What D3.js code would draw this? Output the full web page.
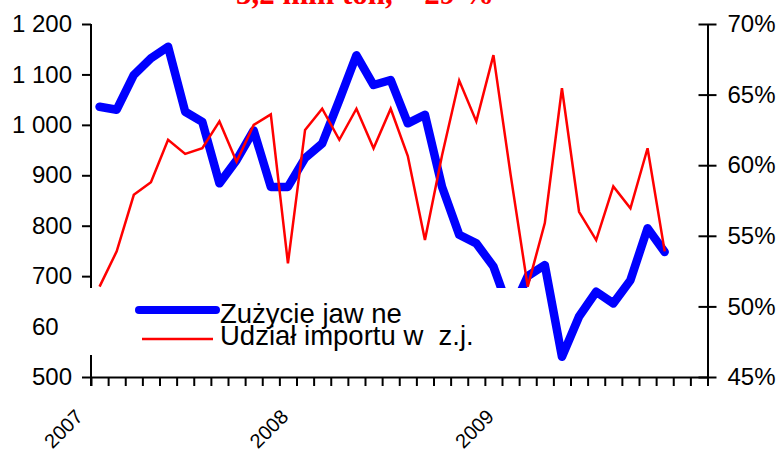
<!DOCTYPE html>
<html><head><meta charset="utf-8">
<script src="https://cdn.jsdelivr.net/npm/d3@7"></script>
<style>html,body{margin:0;padding:0;background:#fff;}svg{display:block;}</style>
</head><body>
<svg id="c" width="778" height="454"></svg>
<script>
// ---- data ----
const months = d3.range(36).map(i => new Date(2007 + Math.floor(i / 12), i % 12, 1));
const yearLabels = ["2007", "2008", "2009"];
const consumption = [1036, 1030, 1099, 1132, 1155, 1026, 1006, 884, 930, 989, 877, 877,
  934, 963, 1049, 1138, 1079, 1089, 1003, 1020, 877, 782, 765, 719,
  625, 700, 722, 540, 620, 669, 646, 692, 795, 748];
const importShare = [51.4, 53.9, 57.9, 58.8, 61.8, 60.8, 61.2, 63.1, 60.25, 62.85, 63.6, 53.05,
  62.5, 64.0, 61.8, 64.0, 61.2, 64.0, 60.65, 54.7, 60.7, 66.0, 63.1, 67.8,
  59.35, 51.4, 55.9, 65.45, 56.7, 54.7, 58.5, 56.95, 61.2, 53.9];
const leftTicks = [500, 600, 700, 800, 900, 1000, 1100, 1200];
const rightTicks = [45, 50, 55, 60, 65, 70];
const seriesNames = ["Zużycie jaw ne", "Udział importu w  z.j."];
const titleText = "3,2 mln ton, ~ 29 %";

// ---- layout ----
const svg = d3.select("#c");
const X0 = 91, X1 = 707.5, YT = 24, YB = 377;
const xi = d3.scaleLinear().domain([0, months.length]).range([X0, X1]);
const yL = d3.scaleLinear().domain([500, 1200]).range([YB, YT]);
const yR = d3.scaleLinear().domain([45, 70]).range([YB, YT]);
const FONT = "'Liberation Sans', Arial, sans-serif";

// title (cut off at top)
svg.append("text").attr("x", 236).attr("y", 4)
  .attr("font-family", "'Liberation Serif', 'Times New Roman', serif")
  .attr("font-weight", "bold").attr("font-size", 31).attr("fill", "#ff0000")
  .text(titleText);

// series lines
const lineL = d3.line().x((d, i) => xi(i + 0.5)).y(d => yL(d));
const lineR = d3.line().x((d, i) => xi(i + 0.5)).y(d => yR(d));
svg.append("path").datum(consumption).attr("d", lineL)
  .attr("fill", "none").attr("stroke", "#0000ff").attr("stroke-width", 8.5)
  .attr("stroke-linejoin", "round").attr("stroke-linecap", "round");
svg.append("path").datum(importShare).attr("d", lineR)
  .attr("fill", "none").attr("stroke", "#ff0000").attr("stroke-width", 2.5)
  .attr("stroke-linejoin", "miter");

// axes
const gL = svg.append("g").attr("transform", `translate(${X0},0)`)
  .call(d3.axisLeft(yL).tickValues(leftTicks).tickSizeInner(9).tickSizeOuter(0).tickPadding(10)
    .tickFormat(d => d3.format(",")(d).replace(",", " ")));
const gR = svg.append("g").attr("transform", `translate(${X1},0)`)
  .call(d3.axisRight(yR).tickValues(rightTicks).tickSizeInner(9).tickSizeOuter(0).tickPadding(11)
    .tickFormat(d => d + "%"));
gR.selectAll(".tick line").attr("x1", -9);
const gX = svg.append("g").attr("transform", `translate(0,${YB})`)
  .call(d3.axisBottom(xi).tickValues(d3.range(months.length + 1)).tickSizeInner(9).tickSizeOuter(0).tickFormat(""));
[gL, gR, gX].forEach(g => {
  g.selectAll("path.domain").attr("stroke", "#000").attr("stroke-width", 2);
  g.selectAll(".tick line").attr("stroke", "#000").attr("stroke-width", 2);
  g.selectAll("text").attr("font-family", FONT).attr("font-size", 24).attr("fill", "#000");
});
gL.select("path.domain").attr("d", `M0,${YT}V${YB + 9}`);

// year labels
svg.append("g").selectAll("text").data(yearLabels).join("text")
  .attr("transform", (d, k) => `translate(${xi(k * 12) - 7},418) rotate(-45)`)
  .attr("text-anchor", "end").attr("font-family", FONT).attr("font-size", 20).attr("fill", "#000")
  .text(d => d);

// legend
const lg = svg.append("g");
lg.append("rect").attr("x", 58).attr("y", 288).attr("width", 477).attr("height", 67).attr("fill", "#fff");
lg.append("line").attr("x1", 139).attr("x2", 216).attr("y1", 310).attr("y2", 310)
  .attr("stroke", "#0000ff").attr("stroke-width", 8).attr("stroke-linecap", "round");
lg.append("line").attr("x1", 142).attr("x2", 213).attr("y1", 339).attr("y2", 339)
  .attr("stroke", "#ff0000").attr("stroke-width", 2.5);
lg.selectAll("text.lg").data(seriesNames).join("text").attr("class", "lg")
  .attr("x", 220).attr("y", (d, i) => i === 0 ? 323 : 345)
  .attr("font-family", FONT).attr("font-size", 27.5).attr("fill", "#000")
  .style("white-space", "pre").text(d => d);
</script>
</body></html>
